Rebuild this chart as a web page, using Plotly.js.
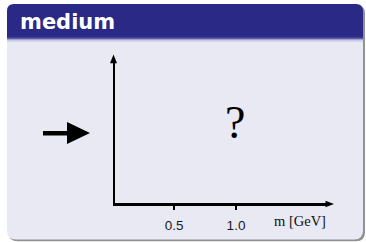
<!DOCTYPE html>
<html>
<head>
<meta charset="utf-8">
<script src="https://cdn.plot.ly/plotly-3.0.1.min.js"></script>
<style>
html,body{margin:0;padding:0;background:#fff;}
#chart{width:366px;height:242px;}
</style>
</head>
<body>
<div id="chart"></div>
<script>
// ---- chart content ----
const blockTitle = 'medium';
const tickValues = [0.5, 1.0];
const tickLabels = ['0.5', '1.0'];
const axisTitle = 'm [GeV]';
const placeholder = '?';
const xRange = [0.024, 1.742];
const yRange = [0, 1];

// ---- layout helpers (pixel -> paper) ----
const W = 366, H = 242;
const M = {l: 115, r: 38, t: 60, b: 39};
const PW = W - M.l - M.r, PH = H - M.t - M.b;
const fx = px => (px - M.l) / PW;
const fy = py => (H - M.b - py) / PH;
const P = (x, y) => fx(x) + ',' + fy(y);

function roundRect(x0, y0, x1, y1, rt, rb) {
  return 'M' + P(x0 + rt, y0) +
    ' L' + P(x1 - rt, y0) + ' Q' + P(x1, y0) + ' ' + P(x1, y0 + rt) +
    ' L' + P(x1, y1 - rb) + ' Q' + P(x1, y1) + ' ' + P(x1 - rb, y1) +
    ' L' + P(x0 + rb, y1) + ' Q' + P(x0, y1) + ' ' + P(x0, y1 - rb) +
    ' L' + P(x0, y0 + rt) + ' Q' + P(x0, y0) + ' ' + P(x0 + rt, y0) + ' Z';
}
function poly(pts) {
  return 'M' + pts.map(p => P(p[0], p[1])).join(' L') + ' Z';
}
function pshape(path, color, layer) {
  return {type: 'path', xref: 'paper', yref: 'paper', path: path,
          fillcolor: color, line: {width: 0}, layer: layer || 'below'};
}

const shapes = [
  pshape(roundRect(8.5, 6, 365, 241.3, 7, 9), 'rgba(110,110,110,0.75)'),
  pshape(roundRect(7, 20, 363, 239.5, 0, 9), '#E9E9F4'),
  pshape(roundRect(7, 4, 363, 38, 7, 0), '#2A2A86'),
  pshape(poly([[7, 37.5], [363, 37.5], [363, 39], [7, 39]]), '#5C5CA8'),
  pshape(poly([[7, 39], [363, 39], [363, 40.5], [7, 40.5]]), '#A2A2D2'),
  pshape(poly([[7, 40.5], [363, 40.5], [363, 42], [7, 42]]), '#D4D4EA'),
  // pointer arrow on the left
  pshape(poly([[43, 131], [67, 131], [67, 122], [90, 133], [67, 144], [67, 135.5], [43, 135.5]]), '#000', 'above'),
  // axis arrow heads
  pshape(poly([[110, 63.3], [113.5, 54.5], [117, 63.3]]), '#000', 'above'),
  pshape(poly([[325.5, 200.8], [334, 204], [325.5, 207.2]]), '#000', 'above')
];

const annotations = [
  {xref: 'paper', yref: 'paper', x: fx(18), y: fy(21.5), xanchor: 'left', yanchor: 'middle',
   text: blockTitle, showarrow: false,
   font: {family: 'DejaVu Sans, sans-serif', size: 21, color: '#ffffff', weight: 'bold'}},
  {xref: 'paper', yref: 'paper', x: fx(235), y: fy(122.5), xanchor: 'center', yanchor: 'middle',
   text: placeholder, showarrow: false,
   font: {family: 'Liberation Serif, serif', size: 46, color: '#000'}},
  {xref: 'paper', yref: 'paper', x: fx(300), y: fy(220.5), xanchor: 'center', yanchor: 'middle',
   text: axisTitle, showarrow: false,
   font: {family: 'Liberation Serif, serif', size: 14.5, color: '#111'}}
];

const data = [{type: 'scatter', mode: 'markers', x: [], y: [], hoverinfo: 'skip', showlegend: false}];

const layout = {
  width: W, height: H,
  margin: M,
  paper_bgcolor: '#ffffff',
  plot_bgcolor: 'rgba(0,0,0,0)',
  showlegend: false,
  font: {family: 'Liberation Sans, sans-serif', size: 12, color: '#1a1a1a'},
  xaxis: {
    range: xRange, showgrid: false, zeroline: false,
    showline: true, linecolor: '#000', linewidth: 2.5,
    ticks: 'outside', ticklen: 4, tickwidth: 2.4, tickcolor: '#000',
    tickmode: 'array', tickvals: tickValues, ticktext: tickLabels,
    ticklabelstandoff: 4,
    tickfont: {family: 'Liberation Sans, sans-serif', size: 13.5, color: '#1a1a1a'},
    fixedrange: true
  },
  yaxis: {
    range: yRange, showgrid: false, zeroline: false,
    showline: true, linecolor: '#000', linewidth: 2.5,
    ticks: '', showticklabels: false, fixedrange: true
  },
  shapes: shapes,
  annotations: annotations
};

Plotly.newPlot('chart', data, layout, {staticPlot: true, displayModeBar: false});
</script>
</body>
</html>
